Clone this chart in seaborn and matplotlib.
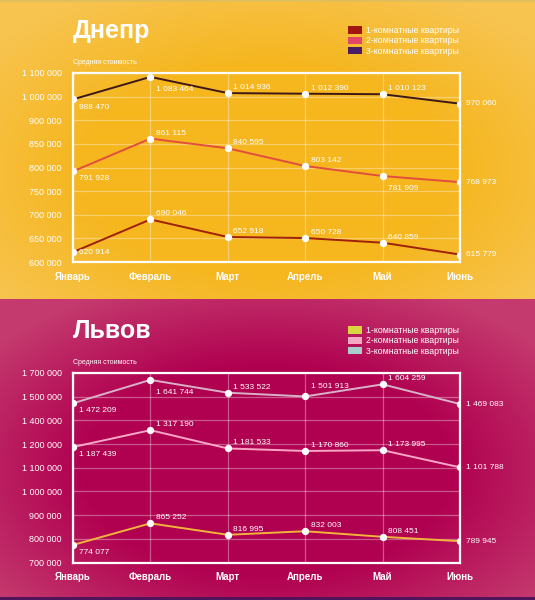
import numpy as np
import pandas as pd
import matplotlib
matplotlib.use("Agg")
import matplotlib.pyplot as plt
from matplotlib.patches import Patch
import seaborn as sns

# -----------------------------
# DATA
# -----------------------------
months = ["Январь", "Февраль", "Март", "Апрель", "Май", "Июнь"]
room_types = ["1-комнатные квартиры", "2-комнатные квартиры", "3-комнатные квартиры"]

dnepr_1 = [620914, 690046, 652918, 650728, 640859, 615779]
dnepr_2 = [791928, 861115, 840595, 803142, 781909, 768973]
dnepr_3 = [988470, 1083464, 1014936, 1012390, 1010123, 970060]
dnepr_ticks = [600000, 650000, 700000, 750000, 800000, 850000, 900000, 1000000, 1100000]

lviv_1 = [774077, 865252, 816995, 832003, 808451, 789945]
lviv_2 = [1187439, 1317190, 1181533, 1170860, 1173995, 1101788]
lviv_3 = [1472209, 1641744, 1533522, 1501913, 1604259, 1469083]
lviv_ticks = [700000, 800000, 900000, 1000000, 1100000, 1200000, 1400000, 1500000, 1700000]

# label placement per point: a/A = above-right, b/B = below-right, r = right
dnepr_place = [
    ["r", "a", "a", "a", "a", "r"],
    ["b", "a", "a", "a", "B", "r"],
    ["b", "B", "a", "a", "a", "r"],
]
lviv_place = [
    ["b", "a", "a", "a", "a", "r"],
    ["b", "a", "a", "a", "a", "r"],
    ["b", "B", "a", "A", "a", "r"],
]

label_offsets = {
    "a": ((4, 1.5), "bottom"),
    "A": ((4, 4.5), "bottom"),
    "b": ((4, -3), "top"),
    "B": ((4, -6.5), "top"),
    "r": ((4.5, 0), "center"),
}


def fmt(v):
    return f"{v:,}".replace(",", " ")


def make_df(series):
    rows = []
    for name, vals in zip(room_types, series):
        for m, v in zip(months, vals):
            rows.append({"month": m, "value": v, "type": name})
    return pd.DataFrame(rows)


sns.set_theme(style="white")
plt.rcParams["font.family"] = ["Liberation Sans", "DejaVu Sans"]

fig = plt.figure(figsize=(5.35, 6.0), dpi=100)

# background panels
bg = fig.add_axes([0, 0, 1, 1], zorder=-10)
h, w = 600, 535
yy, xx = np.mgrid[0:h, 0:w]
img = np.zeros((h, w, 3))
top_c = np.array([245, 182, 30]) / 255
top_e = np.array([248, 196, 80]) / 255
bot_c = np.array([176, 0, 80]) / 255
bot_e = np.array([196, 58, 110]) / 255
for y0, y1, c, e in [(0, 299, top_c, top_e), (299, 600, bot_c, bot_e)]:
    cy = (y0 + y1) / 2 + 20
    d = np.sqrt(((xx - 267) / 330) ** 2 + ((yy - cy) / 190) ** 2)
    t = np.clip((d - 0.55) / 0.5, 0, 1)[..., None]
    m = ((yy >= y0) & (yy < y1))[..., None]
    img = np.where(m, c * (1 - t) + e * t, img)
img[597:, :] = np.array([80, 20, 90]) / 255
img[0:2, :] = np.array([225, 190, 90]) / 255
bg.imshow(img, aspect="auto", extent=[0, 1, 0, 1])
bg.set_axis_off()


def draw_panel(ax_rect, title, series, ticks, line_colors, legend_colors, place, top_px):
    ax = fig.add_axes(ax_rect)
    ax.set_facecolor("none")
    idx = np.arange(len(ticks))
    ax.set_yscale("function", functions=(lambda v: np.interp(v, ticks, idx),
                                         lambda v: np.interp(v, idx, ticks)))
    df = make_df(series)
    sns.lineplot(data=df, x="month", y="value", hue="type", palette=line_colors,
                 linewidth=1.4, marker="o", markersize=4.5, markerfacecolor="white",
                 markeredgecolor="white", legend=False, ax=ax, zorder=3)
    ax.set_xlim(0, len(months) - 1)
    ax.set_ylim(ticks[0], ticks[-1])
    ax.set_yticks(ticks)
    ax.set_yticklabels([fmt(t) for t in ticks])
    ax.yaxis.set_minor_locator(matplotlib.ticker.NullLocator())
    ax.set_xlabel("")
    ax.set_ylabel("")
    ax.tick_params(axis="y", length=0, pad=8, labelsize=6.5, labelcolor="white")
    ax.tick_params(axis="x", length=0, pad=7, labelsize=7, labelcolor="white")
    for lab in ax.get_xticklabels():
        lab.set_fontweight("bold")
    ax.grid(True, color="white", alpha=0.35, linewidth=0.9)
    for sp in ax.spines.values():
        sp.set_color("white")
        sp.set_linewidth(1.6)

    for vals, pl in zip(series, place):
        for i, (v, p) in enumerate(zip(vals, pl)):
            off, va = label_offsets[p]
            ax.annotate(fmt(v), (i, v), xytext=off, textcoords="offset points",
                        ha="left", va=va, fontsize=6, color="white", zorder=4,
                        annotation_clip=False)

    fig.text(73 / 535, 1 - (top_px - 42) / 600, title, fontsize=18, fontweight="bold",
             color="white", va="center", ha="left")
    fig.text(73 / 535, 1 - (top_px - 11) / 600, "Средняя стоимость", fontsize=5,
             color="white", va="center", ha="left")
    handles = [Patch(facecolor=c, edgecolor="none", label=n)
               for c, n in zip(legend_colors, room_types)]
    fig.legend(handles=handles, loc="upper left",
               bbox_to_anchor=(348 / 535, 1 - (top_px - 47) / 600),
               frameon=False, fontsize=6.3, labelcolor="white", handlelength=1.6,
               handleheight=0.9, labelspacing=0.15, handletextpad=0.5,
               borderaxespad=0, borderpad=0)
    return ax


draw_panel([73 / 535, 1 - 262 / 600, 387 / 535, 189 / 600], "Днепр",
           [dnepr_1, dnepr_2, dnepr_3], dnepr_ticks,
           ["#A0200C", "#E24E3E", "#3E1818"],
           ["#A3160F", "#E5456A", "#4A1C68"], dnepr_place, 73)

draw_panel([73 / 535, 1 - 562.5 / 600, 387 / 535, 189.5 / 600], "Львов",
           [lviv_1, lviv_2, lviv_3], lviv_ticks,
           ["#F0B43C", "#F8A6C8", "#D8B2C8"],
           ["#D8D63E", "#F5A8C2", "#A8CFCC"], lviv_place, 373)

plt.savefig("out.png", dpi=100)
